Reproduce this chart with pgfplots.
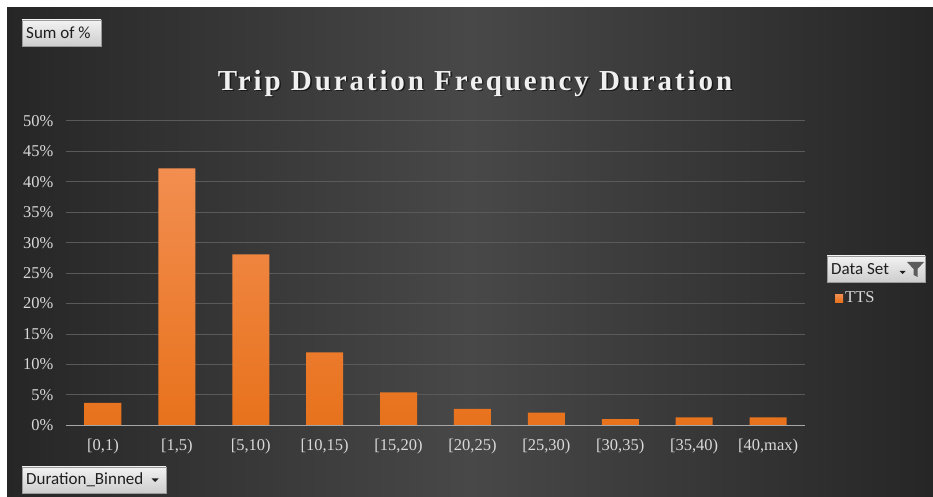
\documentclass[border=0pt]{standalone}
\usepackage{fontspec}
\setmainfont{Liberation Serif}
\newfontfamily\uifont{Carlito}
\newfontfamily\titlefont[LetterSpace=10]{Liberation Serif}
\usepackage{pgfplots}
\pgfplotsset{compat=1.18}

\definecolor{bgEdge}{HTML}{262626}
\definecolor{bgInner}{HTML}{484848}
\definecolor{gridLine}{HTML}{5A5A5A}
\definecolor{axisLine}{HTML}{A6A6A6}
\definecolor{tickText}{HTML}{D9D9D9}
\definecolor{titleText}{HTML}{F0F0F0}
\definecolor{barTop}{HTML}{F28E50}
\definecolor{barBot}{HTML}{E8721C}
\definecolor{btnTop}{HTML}{F2F2F2}
\definecolor{btnBot}{HTML}{CDCDCD}
\definecolor{btnEdge}{HTML}{9A9A9A}
\definecolor{btnText}{HTML}{1E1E1E}
\definecolor{iconGray}{HTML}{5C5C5C}

\tikzset{
  button/.style={top color=btnTop, bottom color=btnBot, draw=btnEdge, line width=0.6pt},
  btnlabel/.style={anchor=west, inner sep=0pt, text=btnText,
    font=\uifont\fontsize{17}{19}\selectfont}
}

\begin{document}
\begin{tikzpicture}[x=1pt,y=1pt]
% page and chart background
\fill[white] (0,0) rectangle (933,497);
\shade[left color=bgEdge, right color=bgEdge, middle color=bgInner] (7,0) rectangle (933,489);

% title with a soft drop shadow
\node[anchor=base, text=black, opacity=0.55,
  font=\titlefont\fontsize{29}{33}\selectfont\bfseries] at (476.6,405.2)
  {Trip Duration Frequency Duration};
\node[anchor=base, text=titleText,
  font=\titlefont\fontsize{29}{33}\selectfont\bfseries] at (475,406.7)
  {Trip Duration Frequency Duration};

\begin{axis}[
  at={(66pt,71.7pt)}, anchor=south west,
  scale only axis, width=739pt, height=304.3pt,
  xmin=-0.5, xmax=9.5, ymin=0, ymax=50,
  axis line style={draw=none},
  major tick length=0pt,
  ytick={0,5,...,50},
  yticklabel={\pgfmathprintnumber{\tick}\%},
  xtick={0,...,9},
  xticklabels={{[0,1)},{[1,5)},{[5,10)},{[10,15)},{[15,20)},{[20,25)},{[25,30)},{[30,35)},{[35,40)},{[40,max)}},
  /pgf/number format/assume math mode=true,
  tick label style={font=\fontsize{16.5}{19}\selectfont, text=tickText},
  yticklabel style={xshift=-9pt},
  xticklabel style={yshift=-10pt},
  ymajorgrids,
  grid style={draw=gridLine, line width=1pt},
  legend style={at={(1.0406,0.418)}, anchor=west, draw=none, fill=none,
    inner sep=0pt, text=tickText, font=\fontsize{16.5}{19}\selectfont,
    legend cell align=left},
]
\addplot[ybar, bar width=37pt, draw=none, top color=barTop, bottom color=barBot,
  legend image code/.code={\fill[barBot] (0pt,-4pt) rectangle (8pt,4pt);}]
  coordinates {(0,3.7) (1,42.2) (2,28.1) (3,12.0) (4,5.4)
               (5,2.7) (6,2.1) (7,1.0) (8,1.3) (9,1.3)};
\addlegendentry{TTS}
% category axis line along the zero level
\draw[axisLine, line width=1.3pt] (rel axis cs:0,0) -- (rel axis cs:1,0);
\end{axis}

% field buttons
\path[button] (22,451) rectangle (101,477);
\node[btnlabel] at (26,464) {Sum of \%};

\path[button] (22,4) rectangle (166,30);
\node[btnlabel] at (26,17) {Duration\_Binned};
\fill[btnText] (151.5,18.5) -- (158.5,18.5) -- (155,15) -- cycle;

\path[button] (827,215) rectangle (925,241);
\node[btnlabel] at (831,228) {Data Set};
\fill[btnText] (899.5,226) -- (905.5,226) -- (902.5,223) -- cycle;
\fill[iconGray] (907,235) -- (924,235) -- (917.5,228) -- (917.5,220)
  -- (913.5,222) -- (913.5,228) -- cycle;
\end{tikzpicture}
\end{document}
